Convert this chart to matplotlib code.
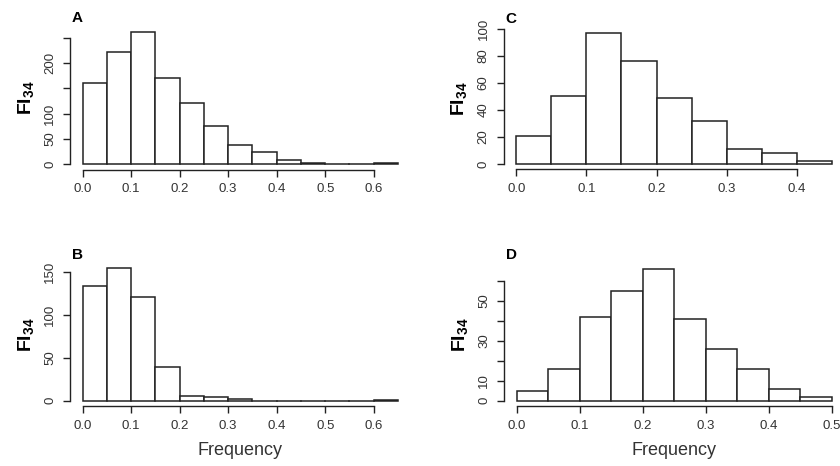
import numpy as np
import matplotlib.pyplot as plt

plt.rcParams['font.family'] = ['Liberation Sans', 'DejaVu Sans']
plt.rcParams['mathtext.fontset'] = 'custom'
plt.rcParams['mathtext.rm'] = 'Liberation Sans'
plt.rcParams['mathtext.bf'] = 'Liberation Sans:bold'

# bin counts (bin width 0.05)
edges_a = np.arange(0, 0.651, 0.05)
counts_a = [160, 221, 261, 171, 120, 76, 38, 24, 8, 2, 0, 0, 2]
edges_b = np.arange(0, 0.651, 0.05)
counts_b = [133, 154, 121, 39, 5, 4, 2, 0, 0, 0, 0, 0, 1]
edges_c = np.arange(0, 0.451, 0.05)
counts_c = [21, 50, 97, 76, 49, 32, 11, 8, 2]
edges_d = np.arange(0, 0.501, 0.05)
counts_d = [5, 16, 42, 55, 66, 41, 26, 16, 6, 2]

xticks_a = [0, 0.1, 0.2, 0.3, 0.4, 0.5, 0.6]
yticks_a = [0, 50, 100, 150, 200, 250]
ylabels_a = ['0', '50', '100', '', '200', '']
xticks_b = [0, 0.1, 0.2, 0.3, 0.4, 0.5, 0.6]
yticks_b = [0, 50, 100, 150]
ylabels_b = ['0', '50', '100', '150']
xticks_c = [0, 0.1, 0.2, 0.3, 0.4]
yticks_c = [0, 20, 40, 60, 80, 100]
ylabels_c = ['0', '20', '40', '60', '80', '100']
xticks_d = [0, 0.1, 0.2, 0.3, 0.4, 0.5]
yticks_d = [0, 10, 20, 30, 40, 50, 60]
ylabels_d = ['0', '10', '', '30', '', '50', '']

W, H = 840, 466
fig = plt.figure(figsize=(8.4, 4.66), dpi=100)
fig.patch.set_facecolor('white')

txt = '#333333'


def panel(rect_px, edges, counts, xticks, yticks, ylabels, letter, xlabel):
    l, r, t, b = rect_px
    ax = fig.add_axes([l / W, 1 - b / H, (r - l) / W, (b - t) / H])
    for i in range(len(counts)):
        if counts[i] > 0:
            ax.bar(edges[i], counts[i], width=0.05, align='edge',
                   facecolor='white', edgecolor='#222222', linewidth=1.1)
        else:
            ax.plot([edges[i], edges[i + 1]], [0, 0], color='#222222', lw=1.1)
    x0, x1 = edges[0], edges[-1]
    ymax = max(counts)
    ax.set_xlim(x0 - 0.04 * (x1 - x0), x1 + 0.04 * (x1 - x0))
    ax.set_ylim(-0.04 * ymax, 1.04 * ymax)
    for s in ['top', 'right']:
        ax.spines[s].set_visible(False)
    ax.spines['left'].set_bounds(yticks[0], yticks[-1])
    ax.spines['bottom'].set_bounds(xticks[0], xticks[-1])
    for s in ['left', 'bottom']:
        ax.spines[s].set_linewidth(1.0)
        ax.spines[s].set_color('#222222')
    ax.set_xticks(xticks)
    ax.set_xticklabels(['%.1f' % v for v in xticks])
    ax.set_yticks(yticks)
    ax.set_yticklabels(ylabels, rotation=90, va='center')
    ax.tick_params(axis='both', length=5, width=1.0, color='#222222',
                   labelsize=9.5, labelcolor=txt, pad=5)
    ax.patch.set_alpha(0)
    ax.text(0.006, 1.03, letter, transform=ax.transAxes, fontsize=11,
            fontweight='bold', color='black', clip_on=False)
    ax.set_ylabel(r'$\mathbf{FI_{34}}$', fontsize=14, color='black', labelpad=6)
    if xlabel:
        ax.set_xlabel('Frequency', fontsize=13, color=txt, labelpad=7)
    return ax


panel((70, 410.6, 26.7, 169.5), edges_a, counts_a, xticks_a, yticks_a, ylabels_a, 'A', False)
panel((70, 410.6, 263, 406), edges_b, counts_b, xticks_b, yticks_b, ylabels_b, 'B', True)
panel((503.7, 844.4, 27.5, 169.3), edges_c, counts_c, xticks_c, yticks_c, ylabels_c, 'C', False)
panel((504.1, 844.3, 263.4, 406), edges_d, counts_d, xticks_d, yticks_d, ylabels_d, 'D', True)

fig.savefig('out.png', dpi=100)
